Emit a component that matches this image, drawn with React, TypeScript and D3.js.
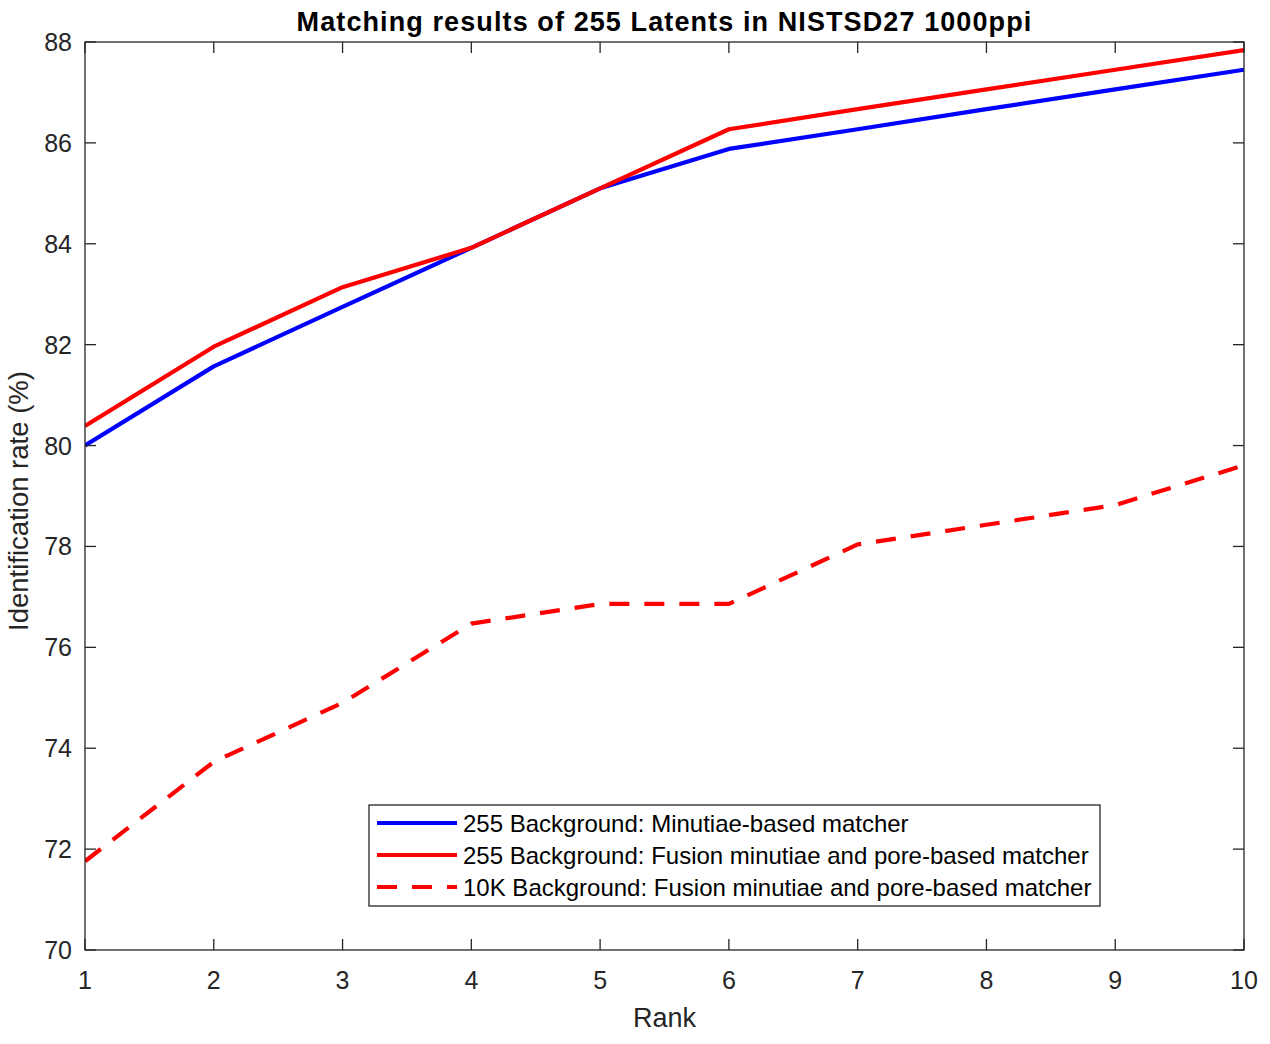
import React from "react";
import * as d3 from "d3";

const ranks = [1, 2, 3, 4, 5, 6, 7, 8, 9, 10];
const minutiae255 = [80.0, 81.57, 82.75, 83.92, 85.1, 85.88, 86.27, 86.67, 87.06, 87.45];
const fusion255 = [80.39, 81.96, 83.14, 83.92, 85.1, 86.27, 86.67, 87.06, 87.45, 87.84];
const fusion10K = [71.76, 73.73, 74.9, 76.47, 76.86, 76.86, 78.04, 78.43, 78.82, 79.61];
const yTicks = [70, 72, 74, 76, 78, 80, 82, 84, 86, 88];
const seriesNames = [
  "255 Background: Minutiae-based matcher",
  "255 Background: Fusion minutiae and pore-based matcher",
  "10K Background: Fusion minutiae and pore-based matcher",
];

const W = 1270;
const H = 1044;
const left = 85;
const right = 1244;
const top = 42;
const bottom = 950;
const font = "'Liberation Sans', Arial, Helvetica, sans-serif";
const axisColor = "#262626";

export default function App() {
  const x = d3.scaleLinear().domain([1, 10]).range([left, right]);
  const y = d3.scaleLinear().domain([70, 88]).range([bottom, top]);
  const line = d3
    .line<number>()
    .x((_, i) => x(ranks[i]))
    .y((d) => y(d));

  const series = [
    { values: minutiae255, color: "#0000ff", dash: undefined as string | undefined },
    { values: fusion255, color: "#ff0000", dash: undefined as string | undefined },
    { values: fusion10K, color: "#ff0000", dash: "20 15" },
  ];

  const legX = 369;
  const legY = 805;
  const legW = 731;
  const legH = 101;
  const rowY = [823, 855, 887];

  return (
    <svg
      width={W}
      height={H}
      viewBox={`0 0 ${W} ${H}`}
      style={{ position: "absolute", left: 0, top: 0, background: "#fff" }}
    >
      <rect x={0} y={0} width={W} height={H} fill="#fff" />
      <defs>
        <clipPath id="clip">
          <rect x={left} y={top} width={right - left} height={bottom - top} />
        </clipPath>
      </defs>
      {/* series */}
      <g clipPath="url(#clip)">
        {series.map((s, i) => (
          <path
            key={i}
            d={line(s.values) || ""}
            fill="none"
            stroke={s.color}
            strokeWidth={4.2}
            strokeDasharray={s.dash}
            strokeLinejoin="round"
          />
        ))}
      </g>
      {/* axes box */}
      <rect
        x={left}
        y={top}
        width={right - left}
        height={bottom - top}
        fill="none"
        stroke={axisColor}
        strokeWidth={1.3}
      />
      {/* x ticks */}
      {ranks.map((r) => (
        <g key={"x" + r}>
          <line x1={x(r)} x2={x(r)} y1={bottom} y2={bottom - 11} stroke={axisColor} strokeWidth={1.3} />
          <line x1={x(r)} x2={x(r)} y1={top} y2={top + 11} stroke={axisColor} strokeWidth={1.3} />
          <text
            x={x(r)}
            y={989}
            textAnchor="middle"
            fontFamily={font}
            fontSize={25}
            fill={axisColor}
          >
            {r}
          </text>
        </g>
      ))}
      {/* y ticks */}
      {yTicks.map((t) => (
        <g key={"y" + t}>
          <line x1={left} x2={left + 11} y1={y(t)} y2={y(t)} stroke={axisColor} strokeWidth={1.3} />
          <line x1={right} x2={right - 11} y1={y(t)} y2={y(t)} stroke={axisColor} strokeWidth={1.3} />
          <text
            x={72}
            y={y(t) + 9}
            textAnchor="end"
            fontFamily={font}
            fontSize={25}
            fill={axisColor}
          >
            {t}
          </text>
        </g>
      ))}
      {/* axis labels */}
      <text x={(left + right) / 2} y={1027} textAnchor="middle" fontFamily={font} fontSize={27} fill={axisColor}>
        Rank
      </text>
      <text
        transform={`translate(28, 501) rotate(-90)`}
        textAnchor="middle"
        fontFamily={font}
        fontSize={27.5}
        fill={axisColor}
      >
        Identification rate (%)
      </text>
      {/* title */}
      <text
        x={(left + right) / 2}
        y={31}
        textAnchor="middle"
        fontFamily={font}
        fontSize={27}
        fontWeight="bold"
        letterSpacing={1.1}
        fill="#000"
      >
        Matching results of 255 Latents in NISTSD27 1000ppi
      </text>
      {/* legend */}
      <rect x={legX} y={legY} width={legW} height={legH} fill="#fff" stroke={axisColor} strokeWidth={1.3} />
      {series.map((s, i) => (
        <g key={"l" + i}>
          <line
            x1={377}
            x2={457}
            y1={rowY[i]}
            y2={rowY[i]}
            stroke={s.color}
            strokeWidth={4.2}
            strokeDasharray={s.dash}
          />
          <text x={463} y={rowY[i] + 9} fontFamily={font} fontSize={24} fill="#000">
            {seriesNames[i]}
          </text>
        </g>
      ))}
    </svg>
  );
}
